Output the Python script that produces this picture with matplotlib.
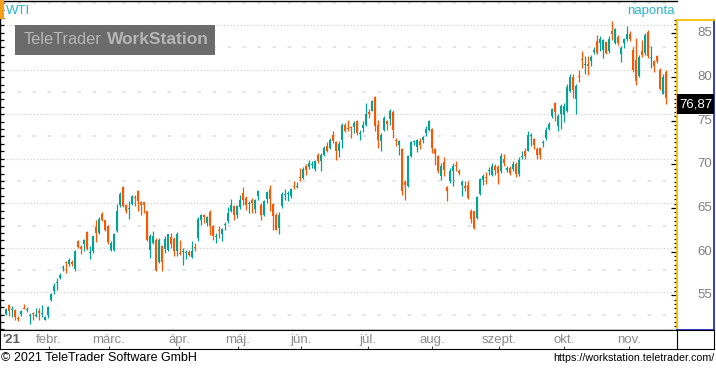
import numpy as np
import matplotlib.pyplot as plt
from matplotlib.patches import Rectangle

plt.rcParams["font.family"] = ["Liberation Sans", "DejaVu Sans"]
plt.rcParams["lines.scale_dashes"] = False

W, H = 716, 368

# daily OHLC, WTI, mid Jan 2021 - Nov 2021
opens = [52.59, 53.53, 53.0, 53.0, 52.1, 52.6, 53.22, 53.1, 52.4, 52.65,
         52.35, 52.85, 52.55, 51.95, 52.5, 54.1, 55.2, 56.1, 56.63, 57.7,
         58.35, 58.2, 58.35, 57.67, 60.81, 60.1, 60.44, 61.78, 59.5, 59.62,
         62.3, 61.67, 63.84, 63.1, 62.42, 59.8, 59.8, 61.86, 64.85, 66.83,
         64.85, 64.35, 64.92, 65.7, 66.42, 65.11, 65.15, 64.1, 59.8, 60.55,
         60.93, 58.42, 60.18, 59.88, 59.8, 61.19, 61.0, 59.69, 59.4, 59.55,
         59.45, 59.54, 58.98, 60.1, 61.11, 63.17, 63.73, 62.8, 63.99, 62.5,
         61.25, 62.0, 61.56, 62.55, 62.98, 64.18, 64.7, 63.65, 64.62, 66.16,
         65.6, 64.9, 65.41, 64.4, 65.82, 64.85, 63.73, 65.52, 66.61, 64.92,
         63.73, 62.23, 64.66, 66.0, 66.1, 65.78, 66.95, 66.9, 67.9, 67.84,
         69.22, 69.04, 69.3, 68.89, 70.38, 69.71, 70.38, 71.39, 71.2, 72.62,
         71.84, 70.83, 72.06, 73.78, 73.37, 73.55, 73.56, 74.26, 72.85, 73.45,
         73.82, 75.24, 75.39, 76.88, 73.82, 71.95, 73.26, 74.19, 74.45, 75.2,
         72.1, 71.58, 71.09, 67.43, 66.98, 70.27, 71.9, 71.28, 71.95, 72.06,
         72.88, 73.26, 73.33, 71.09, 70.34, 68.1, 69.6, 66.79, 67.47, 68.59,
         69.26, 68.59, 67.09, 66.98, 67.05, 64.18, 64.1, 63.35, 66.09, 67.65,
         67.96, 68.66, 68.21, 69.15, 69.07, 68.59, 69.97, 68.7, 68.96, 68.9,
         69.4, 68.3, 70.26, 70.9, 70.9, 72.55, 72.21, 71.1, 71.17, 71.8,
         72.32, 73.33, 74.81, 76.3, 73.7, 75.0, 74.92, 75.37, 77.6, 79.16,
         76.67, 79.3, 81.17, 80.55, 80.55, 81.02, 81.99, 83.18, 82.99, 82.25,
         83.07, 82.06, 84.29, 82.99, 83.66, 81.77, 82.99, 83.48, 84.03, 82.25,
         81.13, 79.27, 82.14, 81.88, 84.18, 81.4, 80.95, 81.58, 80.02, 77.31,
         79.76]
highs = [53.26, 53.64, 53.45, 53.1, 52.35, 53.05, 53.7, 53.35, 52.7, 52.8,
         53.2, 53.2, 53.55, 52.3, 53.45, 54.95, 56.07, 56.6, 57.15, 58.05,
         58.5, 58.9, 58.6, 59.73, 60.92, 60.29, 61.04, 61.86, 60.18, 61.37,
         63.17, 63.43, 63.99, 63.17, 62.53, 60.74, 61.64, 64.92, 66.27, 66.9,
         64.96, 65.22, 65.97, 65.97, 66.5, 65.22, 65.2, 64.18, 61.5, 61.86,
         61.1, 61.1, 60.29, 61.3, 61.56, 61.67, 61.19, 61.78, 60.89, 59.99,
         59.8, 59.77, 60.74, 60.55, 63.43, 63.8, 63.8, 63.58, 64.25, 62.61,
         61.67, 62.42, 62.23, 62.9, 64.55, 65.52, 64.85, 64.85, 65.9, 66.87,
         65.78, 65.22, 65.6, 65.52, 66.53, 65.03, 65.41, 66.42, 67.01, 65.03,
         63.91, 63.99, 66.23, 66.61, 66.42, 66.72, 67.54, 67.39, 68.96, 69.04,
         69.41, 69.89, 69.78, 69.89, 70.64, 70.64, 71.39, 71.87, 72.32, 73.07,
         71.95, 71.95, 74.0, 74.0, 74.3, 73.7, 74.19, 74.38, 73.26, 74.19,
         76.25, 75.58, 76.55, 77.07, 74.38, 72.88, 74.75, 74.38, 75.58, 75.5,
         72.32, 72.14, 71.2, 67.58, 70.45, 71.95, 72.14, 72.21, 72.32, 72.59,
         73.63, 74.38, 73.44, 71.2, 70.45, 69.52, 70.19, 66.9, 68.96, 69.52,
         69.71, 68.85, 67.65, 67.47, 67.47, 64.36, 64.18, 65.86, 67.84, 68.33,
         68.48, 69.07, 69.52, 69.41, 69.33, 70.64, 70.57, 69.15, 69.2, 69.7,
         69.6, 70.2, 70.9, 71.2, 73.14, 72.84, 72.32, 71.36, 71.28, 72.1,
         73.51, 74.18, 75.74, 76.41, 75.0, 76.19, 76.3, 78.35, 79.46, 79.46,
         78.35, 80.02, 82.06, 81.5, 81.5, 81.62, 82.51, 83.92, 83.74, 83.48,
         83.25, 83.74, 85.41, 84.66, 83.85, 82.62, 83.55, 84.85, 84.29, 82.51,
         83.55, 81.69, 83.36, 84.11, 84.48, 82.62, 81.13, 81.69, 80.2, 79.46,
         79.91]
lows = [52.44, 52.33, 52.2, 51.85, 51.77, 52.33, 53.1, 52.8, 51.4, 51.85,
        52.25, 51.85, 52.2, 51.9, 52.15, 54.0, 54.83, 55.3, 56.5, 57.4,
        57.2, 58.0, 58.0, 57.45, 60.0, 59.36, 59.62, 59.77, 58.8, 59.4,
        60.66, 61.5, 62.98, 61.86, 60.44, 59.62, 59.62, 61.78, 64.55, 64.55,
        63.9, 63.28, 64.77, 64.66, 64.1, 63.73, 63.9, 60.74, 58.87, 60.44,
        57.4, 58.31, 57.45, 59.43, 59.7, 60.0, 59.13, 59.06, 59.17, 58.12,
        58.76, 59.13, 58.87, 59.62, 60.74, 62.61, 62.8, 62.42, 61.49, 60.93,
        60.55, 61.11, 60.74, 62.05, 62.8, 64.03, 63.17, 63.35, 64.4, 64.85,
        64.29, 63.91, 63.91, 63.91, 65.41, 63.17, 63.54, 65.03, 64.1, 62.05,
        62.05, 61.6, 64.48, 65.41, 65.3, 65.6, 66.64, 66.72, 67.54, 67.76,
        68.21, 68.89, 68.96, 68.59, 69.52, 68.66, 70.27, 70.75, 71.13, 71.76,
        69.89, 70.19, 71.2, 72.96, 73.07, 72.32, 72.88, 72.7, 72.06, 72.96,
        73.7, 74.57, 75.32, 73.07, 71.2, 70.83, 73.07, 73.26, 73.82, 72.32,
        71.46, 70.45, 65.97, 65.34, 66.83, 70.19, 71.58, 70.71, 71.09, 71.76,
        72.59, 73.07, 70.64, 69.33, 68.4, 67.65, 68.1, 65.22, 67.28, 66.9,
        68.59, 68.21, 65.79, 66.34, 65.49, 62.79, 62.16, 63.24, 65.97, 67.09,
        67.2, 68.21, 68.03, 68.21, 67.2, 68.4, 69.15, 68.47, 68.2, 68.6,
        67.9, 68.1, 69.98, 69.98, 70.84, 71.47, 71.1, 70.0, 70.0, 71.28,
        72.1, 73.2, 74.63, 74.26, 73.14, 73.33, 74.18, 75.3, 77.53, 76.86,
        75.0, 78.64, 80.2, 79.54, 79.39, 80.4, 81.77, 81.77, 82.14, 81.32,
        81.77, 81.88, 83.36, 82.88, 82.81, 80.87, 82.43, 83.25, 83.18, 79.76,
        78.27, 79.16, 81.39, 81.69, 81.32, 80.2, 79.76, 80.76, 77.68, 77.23,
        76.19]
closes = [53.08, 52.89, 53.1, 52.26, 52.05, 52.9, 53.15, 53.15, 52.45, 52.55,
          52.45, 52.75, 52.62, 52.2, 53.35, 54.83, 55.73, 56.2, 57.0, 57.8,
          58.3, 58.6, 58.25, 59.62, 60.07, 59.92, 60.85, 59.88, 59.55, 61.3,
          61.67, 63.28, 63.17, 62.05, 60.63, 60.55, 61.56, 64.18, 66.05, 64.66,
          64.1, 64.45, 65.78, 65.6, 65.22, 64.85, 64.85, 60.93, 61.3, 61.3,
          57.56, 60.93, 58.42, 61.0, 61.5, 60.48, 59.69, 61.6, 59.32, 59.62,
          59.5, 59.24, 59.69, 60.06, 63.28, 63.65, 63.43, 63.43, 62.5, 61.38,
          61.3, 61.95, 62.12, 62.61, 63.91, 64.77, 63.65, 64.66, 65.41, 65.41,
          64.85, 65.0, 65.07, 65.37, 66.34, 63.65, 65.3, 66.23, 65.52, 63.54,
          62.05, 63.73, 66.05, 66.05, 66.16, 66.61, 66.9, 66.95, 67.84, 68.89,
          68.78, 69.52, 69.34, 69.71, 69.71, 70.38, 71.2, 70.9, 72.14, 72.02,
          70.83, 71.65, 73.82, 73.15, 73.33, 73.5, 74.0, 72.88, 72.9, 73.82,
          75.02, 75.02, 76.43, 73.63, 72.14, 72.7, 74.57, 73.93, 75.31, 73.26,
          72.06, 71.95, 66.42, 67.09, 70.34, 71.84, 71.95, 72.06, 71.58, 72.4,
          73.33, 74.26, 71.2, 70.57, 68.59, 69.15, 68.7, 66.34, 68.59, 69.22,
          69.22, 68.4, 67.39, 66.72, 65.6, 63.24, 62.23, 65.71, 67.73, 68.03,
          67.92, 68.7, 69.15, 68.7, 68.4, 70.27, 69.52, 68.96, 68.4, 69.4,
          68.3, 69.9, 70.28, 70.35, 72.66, 72.6, 71.58, 70.47, 70.47, 71.85,
          73.2, 73.88, 75.63, 75.3, 74.81, 75.93, 75.93, 78.05, 79.16, 77.68,
          78.16, 79.27, 81.13, 80.6, 80.5, 81.39, 82.25, 81.88, 83.44, 83.36,
          81.88, 83.48, 84.0, 84.55, 82.99, 82.43, 83.44, 84.03, 83.48, 80.02,
          78.72, 81.39, 81.62, 83.92, 81.5, 81.43, 80.39, 80.95, 77.79, 79.16,
          76.87]

months = ["febr.", "márc.", "ápr.", "máj.", "jún.", "júl.", "aug.", "szept.", "okt.", "nov."]
month_pos = [14.3, 34.3, 57.7, 77.3, 98.3, 120.7, 142.0, 164.3, 186.0, 207.7]
last_label = "76,87"

UP = "#00a396"
DOWN = "#ff5500"
TXT = "#27b5cf"

fig = plt.figure(figsize=(W / 100, H / 100), dpi=100)


def px_axes(x0, y0, x1, y1):
    return fig.add_axes([x0 / W, 1 - y1 / H, (x1 - x0) / W, (y1 - y0) / H])


def fx(px):
    return px / W


def fy(py):
    return 1 - py / H


ymin, ymax = 51.09, 87.71
x = np.arange(len(closes))
o = np.array(opens)
c = np.array(closes)
cols = [UP if cc >= oo else DOWN for oo, cc in zip(o, c)]
xlim = (-2.0, (677 - 6) / 3.0)

# main chart
ax = px_axes(0, 1, 677, 329.5)
ax.set_xlim(*xlim)
ax.set_ylim(ymin, ymax)
for v in range(55, 90, 5):
    ax.axhline(v, color="#c8c8c8", lw=0.8, ls=(0, (0.8, 1.6)), zorder=1)
for v in np.arange(52.5, 88, 5):
    ax.axhline(v, color="#dedede", lw=1.1, ls=(9, (2.6, 8.2)), zorder=1)

ax.vlines(x, lows, highs, colors=cols, lw=0.9, zorder=3)
body = np.abs(c - o)
body = np.maximum(body, 0.12)
bot = np.minimum(o, c)
bot = np.where(np.abs(c - o) < 0.12, (o + c) / 2 - 0.06, bot)
ax.bar(x, body, bottom=bot, width=0.72, color=cols, lw=0, zorder=4)

ax.set_xticks([])
ax.set_yticks(np.arange(85 - 41 * 5 / 6, 88, 5 / 6))
ax.tick_params(axis="y", direction="in", length=3.2, width=0.9, color="black",
               labelleft=False, left=True, right=False)
for s in ["left", "top", "bottom"]:
    ax.spines[s].set_color("black")
    ax.spines[s].set_linewidth(1.0)
ax.spines["right"].set_visible(False)

# right price panel
axr = px_axes(677, 20, 714, 329.5)
axr.set_ylim(ymin, ymax - (19 / 8.97))
axr.set_xlim(0, 1)
axr.set_xticks([])
axr.set_yticks(np.arange(55, 87, 5))
axr.set_yticks(np.arange(51.5, 87, 0.5), minor=True)
axr.tick_params(axis="y", which="major", direction="out", length=4, width=0.9,
                labelleft=False)
axr.tick_params(axis="y", which="minor", direction="out", length=2.2, width=0.9)
axr.spines["left"].set_color("#f2c200")
axr.spines["top"].set_color("#f2c200")
axr.spines["right"].set_color("#1c2fc0")
axr.spines["bottom"].set_color("#1c2fc0")
for s in axr.spines.values():
    s.set_linewidth(1.3)
for v in range(55, 90, 5):
    axr.text(0.96, v, str(v), ha="right", va="center", fontsize=9.5, color="#7f7f7f")
axr.add_patch(Rectangle((0, c[-1] - 1.15), 1, 2.3, facecolor="black", lw=0, zorder=5,
                        clip_on=False))
axr.text(0.5, c[-1], last_label, ha="center", va="center", fontsize=9.5,
         color="white", zorder=6)

# x axis band
axx = px_axes(0, 329.5, 677, 348.5)
axx.set_xlim(*xlim)
axx.set_ylim(0, 1)
axx.set_yticks([])
axx.set_xticks(month_pos)
axx.tick_params(axis="x", direction="in", length=2.5, width=0.8, color="#444444",
                labelbottom=False)
for s in axx.spines.values():
    s.set_color("black")
axx.spines["right"].set_visible(False)
for lab, p in zip(months, month_pos):
    axx.text(p, 0.45, lab, ha="center", va="center", fontsize=9.5, color="#8a8a8a")
axx.text(0.003, 0.45, "'21", transform=axx.transAxes, ha="left", va="center",
         fontsize=9.5, color="#606060", fontweight="bold")

axc = px_axes(677, 329.5, 714, 348.5)
axc.set_xticks([])
axc.set_yticks([])
for s in axc.spines.values():
    s.set_color("black")

# header
fig.patches.append(Rectangle((0, fy(19)), fx(4), 19 / H, transform=fig.transFigure,
                             facecolor="#f5a019", lw=0))
fig.text(fx(6), fy(11), "WTI", ha="left", va="center", fontsize=9.5, color=TXT)
fig.text(fx(675), fy(11), "naponta", ha="right", va="center", fontsize=9.5, color=TXT)

# watermark
fig.patches.append(Rectangle((fx(15), fy(55)), fx(200), 30 / H, transform=fig.transFigure,
                             facecolor="#6b6b6b", lw=0, zorder=10))
fig.text(fx(24), fy(40), "TeleTrader", ha="left", va="center", fontsize=11.8,
         color="#b6b6b6", zorder=11)
fig.text(fx(107), fy(40), "WorkStation", ha="left", va="center", fontsize=12.5,
         color="#b6b6b6", fontweight="bold", zorder=11)

# footer
fig.text(fx(1), fy(358), "\u00a9 2021 TeleTrader Software GmbH", ha="left", va="center",
         fontsize=9, color="black")
fig.text(fx(714), fy(358), "https://workstation.teletrader.com/", ha="right",
         va="center", fontsize=7.7, color="black")

fig.savefig("out.png", dpi=100)
